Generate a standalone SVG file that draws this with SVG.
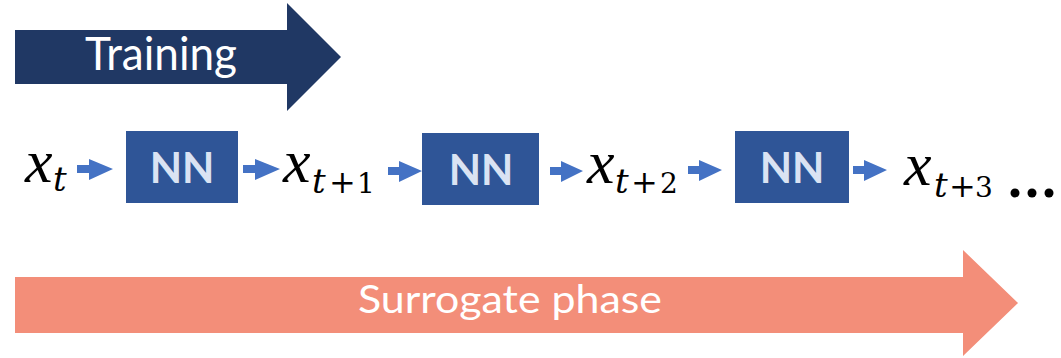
<svg xmlns="http://www.w3.org/2000/svg" width="1061" height="358" viewBox="0 0 1061 358">
<style>
.nn rect{fill:#2F5597}
.nn text{fill:#DAE3F3;font-family:Lato,"Open Sans",sans-serif;font-weight:bold;font-size:42px;text-anchor:middle}
.conn path{fill:#4472C4}
.m{font-family:"DejaVu Serif",serif;fill:#000}
.mx{font-family:"Liberation Serif",serif;font-style:italic;font-size:62px}
.mt{font-style:italic;font-size:34px}
.mp{font-style:normal;font-size:32px}
.md{font-style:normal;font-size:28px}
.banner{fill:#fff;font-family:Lato,"Open Sans",sans-serif;text-anchor:middle}
</style>
<g id="training">
<path d="M15,30 H287 V3 L341,57 L287,111 V84 H15 Z" fill="#203864"/>
<text class="banner" x="161" y="70" font-size="46" textLength="152" lengthAdjust="spacingAndGlyphs">Training</text>
</g>
<g id="surrogate">
<path d="M15,277 H963 V250 L1018,303 L963,356 V333 H15 Z" fill="#F38E79"/>
<text class="banner" x="510" y="313" font-size="38" textLength="304" lengthAdjust="spacingAndGlyphs">Surrogate phase</text>
</g>
<g id="x_t">
<text class="m"><tspan class="mx" x="25" y="182">x</tspan><tspan class="mt" x="53" y="191">t</tspan></text>
</g>
<g id="nn1" class="nn"><rect x="126" y="131" width="112" height="72"/><text x="182" y="183">NN</text></g>
<g id="x_t1">
<text class="m"><tspan class="mx" x="283" y="182">x</tspan><tspan class="mt" x="312" y="193">t</tspan><tspan class="mp" x="329" y="193">+</tspan><tspan class="md" x="357" y="193">1</tspan></text>
</g>
<g id="nn2" class="nn"><rect x="422" y="133" width="117" height="72"/><text x="481" y="185">NN</text></g>
<g id="x_t2">
<text class="m"><tspan class="mx" x="587" y="183">x</tspan><tspan class="mt" x="615" y="193">t</tspan><tspan class="mp" x="631" y="193">+</tspan><tspan class="md" x="660" y="193">2</tspan></text>
</g>
<g id="nn3" class="nn"><rect x="735" y="131" width="114" height="72"/><text x="792" y="183">NN</text></g>
<g id="x_t3">
<text class="m"><tspan class="mx" x="904" y="185">x</tspan><tspan class="mt" x="934" y="197">t</tspan><tspan class="mp" x="949" y="197">+</tspan><tspan class="md" x="975" y="197">3</tspan></text>
<circle cx="1015" cy="193" r="4.5"/><circle cx="1032" cy="193" r="4.5"/><circle cx="1049" cy="193" r="4.5"/>
</g>
<g id="connectors" class="conn">
<path d="M77,165 H89 V159 L113,169 L89,180 V173 H77 Z"/>
<path d="M243,165 H255 V159 L280,169 L255,180 V173 H243 Z"/>
<path d="M388,167 H399 V161 L422,171 L399,182 V175 H388 Z"/>
<path d="M550,167 H561 V161 L583,171 L561,182 V175 H550 Z"/>
<path d="M688,166 H699 V160 L722,170 L699,181 V174 H688 Z"/>
<path d="M853,166 H864 V160 L887,170 L864,181 V174 H853 Z"/>
</g>
</svg>
